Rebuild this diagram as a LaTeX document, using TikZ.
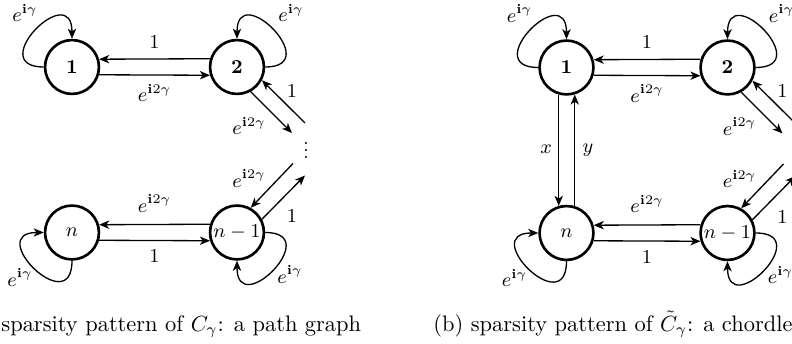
\documentclass[tikz,border=0pt]{standalone}
\usetikzlibrary{arrows.meta}
\tikzset{
  vert/.style={circle, draw, line width=1.2pt, minimum size=24.6pt, inner sep=0pt, font=\fontsize{8.7}{10}\selectfont},
  arr/.style={-{Stealth[length=4.6pt,width=3.8pt,inset=1.3pt]}, line width=0.6pt},
  lab/.style={font=\fontsize{8.7}{10}\selectfont, inner sep=0pt},
  captext/.style={font=\fontsize{10.25}{12}\selectfont, inner sep=0pt, anchor=base west},
}
\newcommand{\mydots}{\vbox{\baselineskip=3.4pt\lineskiplimit=0pt\hbox{.}\hbox{.}\hbox{.}}}
\newcommand{\mypanel}[4]{%
\begin{scope}[shift={(#2,#3)}]
  \node[vert] (#1one) at (0,0) {$\mathbf{1}$};
  \node[vert] (#1two) at (#4,0) {$\mathbf{2}$};
  \node[vert] (#1n) at (0,-165.5) {$n$};
  \node[vert] (#1m) at (#4,-165.5) {$n-1$};
  % self loops
  \draw[arr] (#1one.west) .. controls +(-60,0) and +(0,60) .. (#1one.north);
  \draw[arr] (#1two.east) .. controls +(60,0) and +(0,60) .. (#1two.north);
  \draw[arr] (#1n.south) .. controls +(0,-60) and +(-60,0) .. (#1n.west);
  \draw[arr] (#1m.east) .. controls +(60,0) and +(0,-60) .. (#1m.south);
  \node[lab] (#1l1) at ([shift={(-47,54)}]#1one.center) {$e^{\mathbf{i}\gamma}$};
  \node[lab] (#1l2) at ([shift={(54,54)}]#1two.center) {$e^{\mathbf{i}\gamma}$};
  \node[lab] (#1l3) at ([shift={(-52,-45)}]#1n.center) {$e^{\mathbf{i}\gamma}$};
  \node[lab] (#1l4) at ([shift={(53,-42)}]#1m.center) {$e^{\mathbf{i}\gamma}$};
  % horizontal edges
  \draw[arr] (#1two.163.5) -- (#1one.16.5);
  \draw[arr] (#1one.-16.5) -- (#1two.-163.5);
  \draw[arr] (#1m.163.5) -- (#1n.16.5);
  \draw[arr] (#1n.-16.5) -- (#1m.-163.5);
  \node[lab] (#1h1) at ({#4/2},25) {$1$};
  \node[lab] (#1h2) at ({#4/2},-26) {$e^{\mathbf{i}2\gamma}$};
  \node[lab] (#1h3) at ({#4/2},-136.5) {$e^{\mathbf{i}2\gamma}$};
  \node[lab] (#1h4) at ({#4/2},-189.5) {$1$};
  % dots and diagonal edges
  \node[lab] (#1dots) at ([shift={(69,-83.5)}]#1two.center) {\mydots};
  \coordinate (#1p1) at ([shift={(68,-56)}]#1two.center);
  \coordinate (#1p2) at ([shift={(55,-66)}]#1two.center);
  \coordinate (#1p3) at ([shift={(56,69)}]#1m.center);
  \coordinate (#1p4) at ([shift={(68,57)}]#1m.center);
  \draw[arr] (#1p1) -- (#1two.-28.5);
  \draw[arr] (#1two.-61.5) -- (#1p2);
  \draw[arr] (#1p3) -- (#1m.61.5);
  \draw[arr] (#1m.28.5) -- (#1p4);
  \node[lab] (#1d1) at ([shift={(55,-24)}]#1two.center) {$1$};
  \node[lab] (#1d2) at ([shift={(12,-59)}]#1two.center) {$e^{\mathbf{i}2\gamma}$};
  \node[lab] (#1d3) at ([shift={(12,54)}]#1m.center) {$e^{\mathbf{i}2\gamma}$};
  \node[lab] (#1d4) at ([shift={(55,16)}]#1m.center) {$1$};
\end{scope}}
\begin{document}
\begin{tikzpicture}[x=0.4566pt,y=0.4566pt]
  \useasboundingbox (0,0) rectangle (792,-344);
  \clip (0,0) rectangle (792,-344);
  \fill[white] (0,0) rectangle (792,-344);
  \mypanel{a}{72}{-67}{165}
  \mypanel{b}{566.5}{-67.5}{161}
  % chord
  \draw[arr] (bone.-106.5) -- (bn.106.5);
  \draw[arr] (bn.73.5) -- (bone.-73.5);
  \node[lab] (bx) at ([shift={(-20.5,-81.5)}]bone.center) {$x$};
  \node[lab] (by) at ([shift={(21.5,-82.5)}]bone.center) {$y$};
  % captions
  \node[captext] (capa) at (1,-331.5) {sparsity pattern of $C_\gamma$: a path graph};
  \node[captext] (capb) at (433,-331.5) {(b) sparsity pattern of $\tilde{C}_\gamma$: a chordle};
\end{tikzpicture}
\end{document}
